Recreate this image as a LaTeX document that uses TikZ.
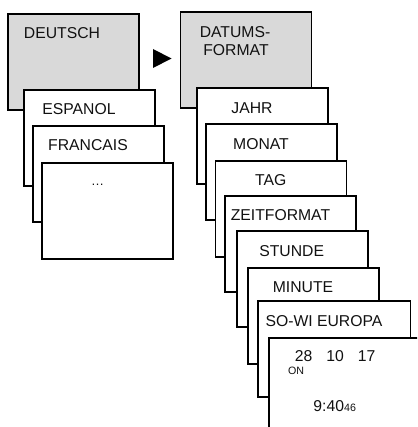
\documentclass[tikz,border=0pt]{standalone}
\usepackage{fontspec}
\setmainfont{Liberation Sans}
\definecolor{panelgray}{HTML}{D9D9D9}
\definecolor{inkc}{HTML}{111111}
\newcommand{\lbl}{\fontsize{11.8}{14}\selectfont}
\tikzset{
  x=0.75pt,y=-0.75pt,
  card/.style={draw=black,line width=1.45pt,fill=white,anchor=north west,inner sep=0pt,minimum width=#1*0.75pt,minimum height=72pt},
  card/.default=131,
  graycard/.style={card,fill=panelgray},
  lab/.style={text=inkc,font=\lbl,inner sep=0pt,anchor=center}
}
\begin{document}
\begin{tikzpicture}
\useasboundingbox (0,0) rectangle (417,427);
\clip (0,0) rectangle (417,427);
\fill[white] (0,0) rectangle (417,427);
% left stack
\node[graycard] (deutsch) at (7,13) {};
\node[card] (espanol) at (23,89) {};
\node[card] (francais) at (32,125.5) {};
\node[card] (dots) at (41,162) {};
\node[lab] (tdeutsch) at (62,33) {DEUTSCH};
\node[lab] (tespanol) at (79,109) {ESPANOL};
\node[lab] (tfrancais) at (88,145) {FRANCAIS};
\node[lab,font=\fontsize{9.75}{11}\selectfont] (tdots) at (97.7,185) {…};
% arrow
\fill[black] (153,49) -- (171.5,58.5) -- (153,68) -- cycle;
% right stack
\node[graycard] (datums) at (179.5,11) {};
\node[card] (jahr) at (195.7,87) {};
\node[card] (monat) at (205,123.5) {};
\node[card] (tagc) at (214.5,160) {};
\node[card] (zeit) at (224,195) {};
\node[card] (stunde) at (235.7,230) {};
\node[card] (minute) at (247,266.7) {};
\node[card=152.5] (sowi) at (257,300) {};
\node[card=170] (display) at (268,336.7) {};
\node[lab] (t1) at (235,31.7) {DATUMS-};
\node[lab] (t2) at (236,50) {FORMAT};
\node[lab] (tjahr) at (252,107.7) {JAHR};
\node[lab] (tmonat) at (261,144) {MONAT};
\node[lab] (ttag) at (270.7,180) {TAG};
\node[lab] (tzeit) at (280.5,215) {ZEITFORMAT};
\node[lab] (tstunde) at (291.7,250.7) {STUNDE};
\node[lab] (tminute) at (303,286.7) {MINUTE};
\node[lab] (tsowi) at (324,320.7) {SO-WI EUROPA};
\node[lab] (d28) at (303.7,356) {28};
\node[lab] (d10) at (335,356) {10};
\node[lab] (d17) at (366.7,356) {17};
\node[lab,font=\fontsize{8}{9}\selectfont] (ton) at (296,371) {ON};
\node[lab] (ttime) at (334.7,406) {9:40{\fontsize{8}{9}\selectfont 46}};
\end{tikzpicture}
\end{document}
